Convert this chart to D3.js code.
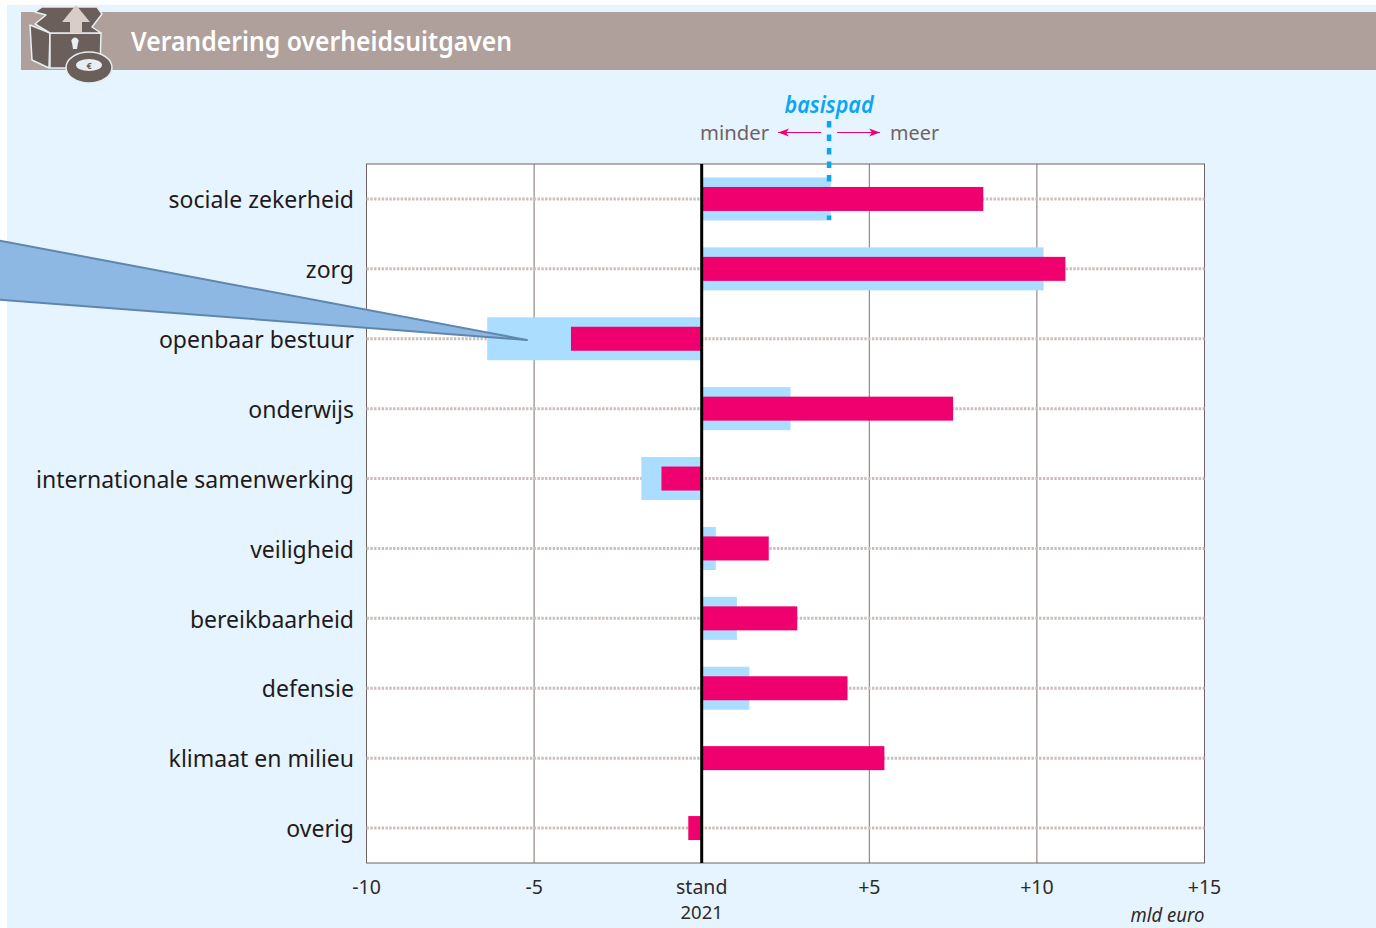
<!DOCTYPE html>
<html>
<head>
<meta charset="utf-8">
<script src="https://cdn.jsdelivr.net/npm/d3@7"></script>
<style>
  html, body { margin: 0; background: #fff; }
  text { font-family: "Noto Sans", sans-serif; }
</style>
</head>
<body>
<div id="chart"></div>
<script>
const categories = ['sociale zekerheid', 'zorg', 'openbaar bestuur', 'onderwijs', 'internationale samenwerking',
    'veiligheid', 'bereikbaarheid', 'defensie', 'klimaat en milieu', 'overig'];
const basispad = [3.85, 10.2, -6.4, 2.65, -1.8, 0.42, 1.05, 1.42, 0, 0];
const verandering = [8.4, 10.85, -3.9, 7.5, -1.2, 2.0, 2.85, 4.35, 5.45, -0.4];
const tickValues = [-10, -5, 0, 5, 10, 15];
const tickLabels = ['-10', '-5', 'stand', '+5', '+10', '+15'];
const basispadMarker = 3.8;

const margin = { top: 164, right: 171.5, bottom: 65, left: 366.5 };
const width = 1376 - margin.left - margin.right;
const height = 928 - margin.top - margin.bottom;

const root = d3.select('#chart').append('svg')
    .attr('width', 1376)
    .attr('height', 928)
    .style('display', 'block');

// page background and title band
root.append('rect').attr('x', 7).attr('y', 5).attr('width', 1369).attr('height', 923).attr('fill', '#e6f4ff');
root.append('rect').attr('x', 21).attr('y', 12).attr('width', 1355).attr('height', 58).attr('fill', '#b0a09b');

root.append('text')
    .attr('x', 131).attr('y', 51)
    .attr('font-size', 27).attr('font-weight', 600).attr('fill', '#fff')
    .attr('textLength', 381).attr('lengthAdjust', 'spacingAndGlyphs')
    .text('Verandering overheidsuitgaven');

// treasure chest icon
const icon = root.append('g').attr('stroke', '#e6eef2').attr('stroke-width', 1.5).attr('stroke-linejoin', 'round');
icon.append('path').attr('fill', '#6b5f5b').attr('d', 'M30 25 L50 33 L49 68 L32 60 Z');
icon.append('path').attr('fill', '#6b5f5b').attr('d', 'M50 33 L101 33 L100 68 L50 68 Z');
icon.append('path').attr('fill', '#6b5f5b')
    .attr('d', 'M35 12 L42 7 L97 7 L102 14 L92 27 L101 33 L50 33 L35 24 L46 15 Z');
icon.append('path').attr('fill', '#d9cdca').attr('stroke', 'none')
    .attr('d', 'M76 5 L90 22 L82 22 L82 33 L70 33 L70 22 L62 22 Z');
icon.append('path').attr('fill', '#e6eef2').attr('stroke', 'none')
    .attr('d', 'M72 43 a3.5 3.5 0 1 1 6 0 L77 49 L73 49 Z');
icon.append('ellipse').attr('cx', 89).attr('cy', 67.5).attr('rx', 23).attr('ry', 15.5).attr('fill', '#6b5f5b');
icon.append('ellipse').attr('cx', 89).attr('cy', 65).attr('rx', 13).attr('ry', 6).attr('fill', '#e6eef2').attr('stroke', 'none');
icon.append('text').attr('x', 89).attr('y', 69).attr('text-anchor', 'middle')
    .attr('font-size', 9).attr('font-weight', 700).attr('fill', '#6b5f5b').attr('stroke', 'none').text('€');

const svg = root.append('g')
    .attr('transform', `translate(${margin.left},${margin.top})`);

const xScale = d3.scaleLinear().domain([-10, 15]).range([0, width]);
const yScale = d3.scaleBand().domain(categories).range([0, height]);

svg.append('rect').attr('width', width).attr('height', height).attr('fill', '#fff');

// vertical grid from the x axis
const xAxis = d3.axisBottom(xScale)
    .tickValues(tickValues)
    .tickSize(-height)
    .tickPadding(17)
    .offset(0)
    .tickFormat((d, i) => tickLabels[i]);

const xAxisG = svg.append('g')
    .attr('class', 'x-axis')
    .attr('transform', `translate(0,${height})`)
    .call(xAxis);
xAxisG.select('.domain').remove();
xAxisG.selectAll('line').attr('stroke', '#7d716d').attr('stroke-width', 1);
xAxisG.selectAll('text').attr('font-size', 19.5).attr('fill', '#2f2a28').attr('font-family', 'Noto Sans');

svg.append('rect').attr('width', width).attr('height', height)
    .attr('fill', 'none').attr('stroke', '#6f6360').attr('stroke-width', 1);

// dotted row lines
svg.append('g').selectAll('line')
    .data(categories)
    .join('line')
    .attr('x1', 0).attr('x2', width)
    .attr('y1', d => yScale(d) + yScale.bandwidth() / 2)
    .attr('y2', d => yScale(d) + yScale.bandwidth() / 2)
    .attr('stroke', '#cbbfbb').attr('stroke-width', 3).attr('stroke-dasharray', '2.4 1.4');

const barBlue = 43;
const barRed = 24;

svg.append('g').selectAll('rect')
    .data(basispad)
    .join('rect')
    .attr('x', d => Math.min(xScale(0), xScale(d)))
    .attr('width', d => Math.abs(xScale(d) - xScale(0)))
    .attr('y', (d, i) => yScale(categories[i]) + (yScale.bandwidth() - barBlue) / 2)
    .attr('height', barBlue)
    .attr('fill', '#aaddff');

// basispad marker, behind the red bars
const mx = xScale(basispadMarker);
svg.append('line')
    .attr('x1', mx).attr('x2', mx)
    .attr('y1', -43).attr('y2', 56)
    .attr('stroke', '#0aa5f5').attr('stroke-width', 4.5).attr('stroke-dasharray', '6.5 7');

svg.append('g').selectAll('rect')
    .data(verandering)
    .join('rect')
    .attr('x', d => Math.min(xScale(0), xScale(d)))
    .attr('width', d => Math.abs(xScale(d) - xScale(0)))
    .attr('y', (d, i) => yScale(categories[i]) + (yScale.bandwidth() - barRed) / 2)
    .attr('height', barRed)
    .attr('fill', '#f0006e');

// stand 2021 line
svg.append('line')
    .attr('x1', xScale(0)).attr('x2', xScale(0))
    .attr('y1', 0).attr('y2', height)
    .attr('stroke', '#000').attr('stroke-width', 3);

// category labels
const yAxis = d3.axisLeft(yScale).tickSize(0).tickPadding(12.5);
const yAxisG = svg.append('g').attr('class', 'y-axis').call(yAxis);
yAxisG.select('.domain').remove();
yAxisG.selectAll('text').attr('font-size', 23).attr('fill', '#1f1b1a').attr('font-family', 'Noto Sans')
    .attr('dy', '0.4em');

svg.append('text').attr('x', mx).attr('y', -51).attr('text-anchor', 'middle')
    .attr('font-size', 23).attr('font-style', 'italic').attr('font-weight', 600).attr('fill', '#0aa5f5')
    .attr('textLength', 89).attr('lengthAdjust', 'spacingAndGlyphs')
    .text('basispad');

svg.append('text').attr('x', mx - 60).attr('y', -24).attr('text-anchor', 'end')
    .attr('font-size', 20).attr('fill', '#6f6360').attr('textLength', 69).attr('lengthAdjust', 'spacingAndGlyphs').text('minder');
svg.append('text').attr('x', mx + 61).attr('y', -24)
    .attr('font-size', 20).attr('fill', '#6f6360').attr('textLength', 49).attr('lengthAdjust', 'spacingAndGlyphs').text('meer');

const arrowColor = '#f0006e';
[[-8, -51], [8, 51]].forEach(([from, to]) => {
    const dir = Math.sign(to);
    svg.append('line').attr('x1', mx + from).attr('x2', mx + to).attr('y1', -31.5).attr('y2', -31.5)
        .attr('stroke', arrowColor).attr('stroke-width', 1.2);
    svg.append('path')
        .attr('d', `M${mx + to} -31.5 l${-dir * 11} -4 l${dir * 3} 4 l${-dir * 3} 4 Z`)
        .attr('fill', arrowColor);
});

// bottom notes
svg.append('text').attr('x', xScale(0)).attr('y', height + 56).attr('text-anchor', 'middle')
    .attr('font-size', 18.5).attr('fill', '#2f2a28').text('2021');
svg.append('text').attr('x', width).attr('y', height + 59).attr('text-anchor', 'end')
    .attr('font-size', 19).attr('font-style', 'italic').attr('fill', '#2f2a28')
    .attr('textLength', 74).attr('lengthAdjust', 'spacingAndGlyphs').text('mld euro');

// callout wedge coming in from the left
root.append('path')
    .attr('d', 'M-4 240 L527 340 L-4 299.5 Z')
    .attr('fill', '#8db8e4').attr('stroke', '#5f86ad').attr('stroke-width', 2).attr('stroke-linejoin', 'round');
</script>
</body>
</html>
